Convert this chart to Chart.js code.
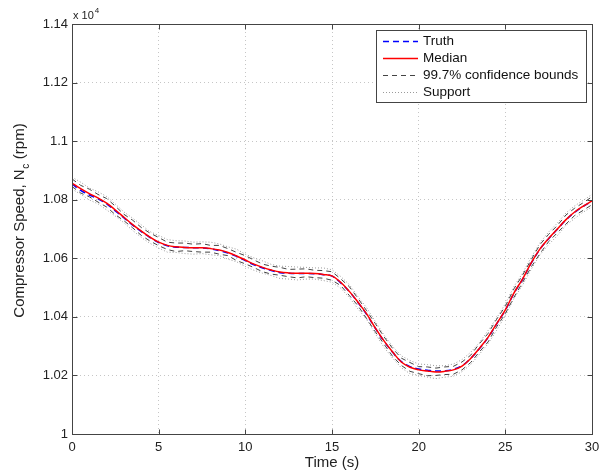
<!DOCTYPE html>
<html><head><meta charset="utf-8">
<script src="https://cdn.jsdelivr.net/npm/chart.js@4.4.1/dist/chart.umd.min.js"></script>
<style>html,body{margin:0;padding:0;background:#fff;} #wrap{width:609px;height:473px;position:relative;}</style>
</head><body><div id="wrap"><canvas id="c"></canvas></div>
<script>
// Time (s)
const timeS = [0,0.5,1,1.5,2,2.5,3,3.5,4,4.5,5,5.5,6,6.5,7,7.5,8,8.5,9,9.5,10,10.5,11,11.5,12,12.5,13,13.5,14,14.5,15,15.5,16,16.5,17,17.5,18,18.5,19,19.5,20,20.5,21,21.5,22,22.5,23,23.5,24,24.5,25,25.5,26,26.5,27,27.5,28,28.5,29,29.5,30];
// Compressor speed (rpm)
const truthRpm = [10854,10832,10816,10803,10786,10762,10738,10713,10691,10671,10654,10643,10638,10637,10636,10635,10632,10626,10618,10606,10592,10578,10567,10558,10551,10549,10548,10548,10547,10544,10539,10516,10486,10449,10408,10361,10317,10279,10247,10230,10222,10218,10215,10216,10221,10233,10258,10291,10329,10376,10423,10480,10529,10584,10631,10667,10699,10731,10757,10777,10795];
const medianRpm = [10857,10838,10821,10806,10788,10765,10740,10715,10693,10672,10655,10644,10639,10637,10636,10636,10633,10628,10620,10608,10594,10580,10569,10560,10553,10550,10549,10549,10548,10545,10540,10518,10487,10450,10410,10362,10318,10280,10246,10228,10219,10215,10212,10214,10219,10232,10258,10292,10330,10377,10424,10482,10530,10585,10632,10668,10700,10732,10758,10778,10796];
const upperBound = [10871,10849,10836,10818,10804,10778,10750,10730,10705,10686,10671,10655,10652,10652,10648,10650,10644,10644,10633,10620,10609,10594,10580,10573,10569,10562,10563,10564,10559,10558,10554,10530,10503,10463,10421,10377,10332,10292,10259,10244,10230,10229,10225,10229,10231,10246,10269,10308,10343,10392,10436,10496,10543,10596,10647,10682,10712,10748,10771,10790,10810];
const lowerBound = [10845,10823,10810,10792,10775,10749,10728,10704,10678,10659,10643,10630,10623,10626,10623,10621,10621,10614,10609,10592,10581,10568,10554,10546,10542,10537,10533,10537,10534,10532,10525,10507,10473,10438,10394,10349,10307,10265,10234,10214,10206,10199,10200,10203,10204,10219,10244,10280,10314,10366,10411,10467,10518,10571,10616,10657,10687,10717,10746,10764,10783];
const supportUpper = [10877,10860,10840,10827,10811,10785,10758,10737,10714,10691,10678,10664,10660,10659,10655,10656,10655,10649,10639,10631,10614,10601,10591,10579,10573,10572,10570,10569,10567,10567,10561,10538,10510,10469,10431,10384,10338,10299,10267,10251,10239,10237,10233,10233,10239,10254,10279,10312,10353,10396,10445,10504,10550,10604,10653,10690,10720,10755,10779,10798,10818];
const supportLower = [10836,10819,10799,10786,10765,10744,10721,10695,10671,10651,10635,10621,10620,10616,10614,10616,10612,10609,10597,10588,10572,10559,10549,10541,10531,10529,10526,10529,10529,10524,10518,10498,10466,10427,10391,10342,10296,10259,10226,10206,10200,10194,10189,10194,10197,10213,10237,10272,10308,10354,10404,10463,10509,10563,10612,10647,10677,10713,10736,10758,10775];
const xTicks = [0,5,10,15,20,25,30];
const yTicks = [10000,10200,10400,10600,10800,11000,11200,11400];
const legendLabels = ['Truth','Median','99.7% confidence bounds','Support'];

const FONT = '"Liberation Sans", Arial, Helvetica, sans-serif';
const pts = arr => arr.map((v,i)=>({x:timeS[i], y:v}));

const styles = {
  truth:   {color:'#0000ff', width:1.5, dash:[6,4]},
  median:  {color:'#ff0000', width:1.5, dash:[]},
  bounds:  {color:'#444444', width:1, dash:[5,4]},
  support: {color:'#9a9a9a', width:1, dash:[1,2]}
};

function ds(label, data, st, order, tension){
  return {label, data: pts(data), borderColor: st.color, borderWidth: st.width, borderDash: st.dash,
    pointRadius:0, fill:false, tension: tension, order: order};
}

const datasets = [
  ds(legendLabels[1], medianRpm, styles.median, 0, 0.4),
  ds(legendLabels[0], truthRpm, styles.truth, 1, 0.4),
  ds(legendLabels[2], upperBound, styles.bounds, 2, 0),
  ds(legendLabels[2], lowerBound, styles.bounds, 2, 0),
  ds(legendLabels[3], supportUpper, styles.support, 3, 0),
  ds(legendLabels[3], supportLower, styles.support, 3, 0)
];

const framePlugin = {
  id:'frame',
  afterDatasetsDraw(chart){
    const {ctx, chartArea:a, scales:{x, y}} = chart;
    ctx.save();
    ctx.strokeStyle = '#444'; ctx.lineWidth = 1; ctx.setLineDash([]);
    const L = Math.round(a.left)+0.5, R = Math.round(a.right)+0.5, T = Math.round(a.top)+0.5, B = Math.round(a.bottom)+0.5;
    ctx.strokeRect(L, T, R-L, B-T);
    ctx.beginPath();
    yTicks.forEach(v=>{ const p = Math.round(y.getPixelForValue(v))+0.5; ctx.moveTo(L,p); ctx.lineTo(L+5,p); ctx.moveTo(R,p); ctx.lineTo(R-5,p); });
    xTicks.forEach(v=>{ const p = Math.round(x.getPixelForValue(v))+0.5; ctx.moveTo(p,B); ctx.lineTo(p,B-5); ctx.moveTo(p,T); ctx.lineTo(p,T+5); });
    ctx.stroke();
    ctx.restore();
  },
  afterDraw(chart){
    const {ctx, chartArea:a} = chart;
    ctx.save();
    // exponent label
    ctx.fillStyle = '#222';
    ctx.textBaseline = 'alphabetic'; ctx.textAlign = 'left';
    ctx.font = '11px ' + FONT;
    const base = 'x 10';
    ctx.fillText(base, a.left+1, 19);
    const bw = ctx.measureText(base).width;
    ctx.font = '8px ' + FONT;
    ctx.fillText('4', a.left+1+bw+1, 13);
    // y title with subscript
    ctx.translate(20, (a.top+a.bottom)/2 - 8);
    ctx.rotate(-Math.PI/2);
    ctx.textBaseline = 'middle';
    const p1 = 'Compressor Speed, N', sub = 'c', p2 = ' (rpm)';
    ctx.font = '15px ' + FONT; const w1 = ctx.measureText(p1).width, w3 = ctx.measureText(p2).width;
    ctx.font = '10px ' + FONT; const w2 = ctx.measureText(sub).width;
    let sx = -(w1+w2+w3)/2;
    ctx.font = '15px ' + FONT; ctx.fillText(p1, sx, 0); sx += w1;
    ctx.font = '10px ' + FONT; ctx.fillText(sub, sx+0.5, 6); sx += w2+1;
    ctx.font = '15px ' + FONT; ctx.fillText(p2, sx, 0);
    ctx.restore();

    // legend
    ctx.save();
    const lx = 376.5, ly = 30.5, lw = 210, lh = 72;
    ctx.fillStyle = '#fff'; ctx.fillRect(lx, ly, lw, lh);
    ctx.strokeStyle = '#444'; ctx.lineWidth = 1; ctx.setLineDash([]);
    ctx.strokeRect(lx, ly, lw, lh);
    const st = [styles.truth, styles.median, styles.bounds, styles.support];
    ctx.font = '13.5px ' + FONT; ctx.fillStyle = '#111'; ctx.textBaseline = 'middle'; ctx.textAlign='left';
    legendLabels.forEach((lab,i)=>{
      const yy = 41.5 + i*17;
      ctx.beginPath(); ctx.strokeStyle = st[i].color; ctx.lineWidth = st[i].width; ctx.setLineDash(st[i].dash);
      ctx.moveTo(383, yy); ctx.lineTo(418, yy); ctx.stroke();
      ctx.fillText(lab, 423, yy);
    });
    ctx.restore();
  }
};

new Chart(document.getElementById('c'), {
  type:'line',
  data:{datasets},
  options:{
    responsive:true, maintainAspectRatio:false, animation:false,
    layout:{padding:{left:0, right:17, top:24, bottom:0}},
    plugins:{legend:{display:false}, tooltip:{enabled:false}},
    scales:{
      x:{type:'linear', min:0, max:30,
        afterFit(s){ s.height = 39; },
        afterBuildTicks(s){ s.ticks = xTicks.map(v=>({value:v})); },
        ticks:{font:{family:FONT, size:13}, color:'#222', padding:6, maxRotation:0},
        grid:{color:'#c6c6c6', lineWidth:1, drawTicks:false},
        border:{display:false, dash:[1,3]},
        title:{display:true, text:'Time (s)', font:{family:FONT, size:15}, color:'#222', padding:{top:0,bottom:1}}
      },
      y:{type:'linear', min:10000, max:11400,
        afterFit(s){ s.width = 72; },
        afterBuildTicks(s){ s.ticks = yTicks.map(v=>({value:v})); },
        ticks:{font:{family:FONT, size:13}, color:'#222', padding:4,
          callback:v=>String(parseFloat((v/10000).toFixed(2)))},
        grid:{color:'#c6c6c6', lineWidth:1, drawTicks:false},
        border:{display:false, dash:[1,3]}
      }
    }
  },
  plugins:[framePlugin]
});
</script></body></html>
